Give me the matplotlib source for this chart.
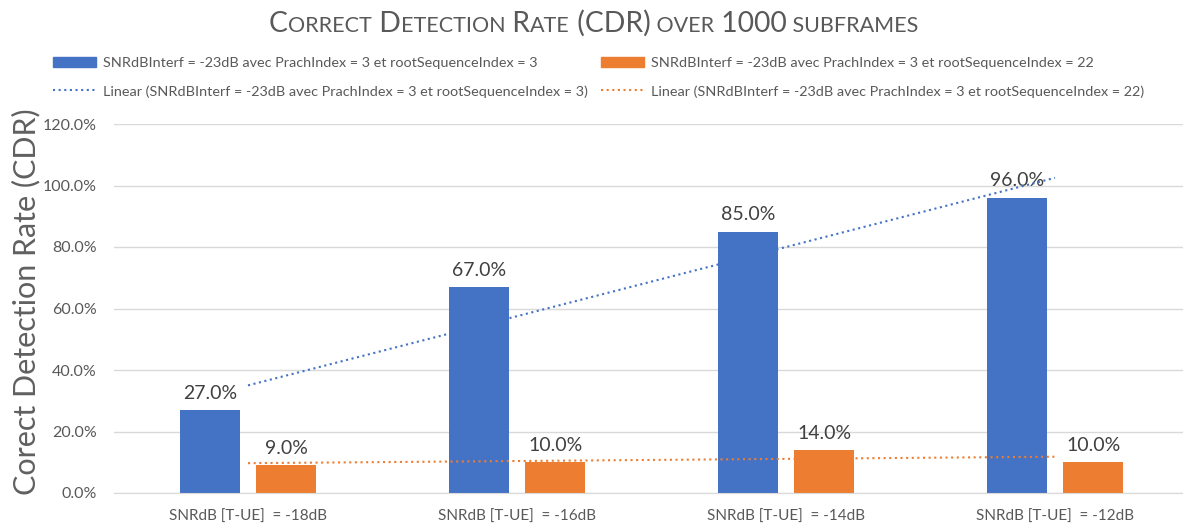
import numpy as np
import matplotlib
matplotlib.use("Agg")
import matplotlib.pyplot as plt
from matplotlib.patches import Patch
from matplotlib.lines import Line2D

categories = ["SNRdB [T-UE]  = -18dB", "SNRdB [T-UE]  = -16dB",
              "SNRdB [T-UE]  = -14dB", "SNRdB [T-UE]  = -12dB"]
cdr_root3 = [27.0, 67.0, 85.0, 96.0]
cdr_root22 = [9.0, 10.0, 14.0, 10.0]
label_root3 = "SNRdBInterf = -23dB avec PrachIndex = 3 et rootSequenceIndex = 3"
label_root22 = "SNRdBInterf = -23dB avec PrachIndex = 3 et rootSequenceIndex = 22"
yticks = [0, 20, 40, 60, 80, 100, 120]

FONT = "Lato"
plt.rcParams["font.family"] = [FONT, "DejaVu Sans"]

BLUE = "#4472C4"
ORANGE = "#ED7D31"
GRID = "#D9D9D9"
TXT = "#595959"

fig = plt.figure(figsize=(11.83, 5.28), dpi=100)
ax = fig.add_axes([113.5 / 1183, 1 - 493 / 528, 1076 / 1183, (493 - 124) / 528 * 1.0])

x = np.arange(len(categories))
off = 0.142
w = 0.223
b1 = ax.bar(x - off, cdr_root3, width=w, color=BLUE, zorder=2)
b2 = ax.bar(x + off, cdr_root22, width=w, color=ORANGE, zorder=2)

for bars, vals in ((b1, cdr_root3), (b2, cdr_root22)):
    for r, v in zip(bars, vals):
        ax.annotate(f"{v:.1f}%", (r.get_x() + r.get_width() / 2, v),
                    xytext=(0, 6), textcoords="offset points",
                    ha="center", va="bottom", fontsize=14, color="#404040")

# linear trendlines (Excel-like) fitted over category index 1..4
xi = np.arange(1, len(categories) + 1)
for vals, col in ((cdr_root3, BLUE), (cdr_root22, ORANGE)):
    p = np.polyfit(xi, vals, 1)
    ax.plot(x, np.polyval(p, xi), color=col, lw=1.5,
            linestyle=(0, (1, 1.7)), zorder=3)

ax.set_xlim(-0.5, len(categories) - 0.5)
ax.set_ylim(0, 120)
ax.set_yticks(yticks)
ax.set_yticklabels([f"{t:.1f}%" for t in yticks])
ax.set_xticks(x)
ax.set_xticklabels(categories)
ax.tick_params(axis="both", length=0, colors=TXT, labelsize=11)
ax.tick_params(axis="y", pad=12, labelsize=11.5)
ax.tick_params(axis="x", pad=12)
ax.grid(axis="y", color=GRID, lw=1, zorder=0)
ax.set_axisbelow(True)
for s in ("top", "right", "left"):
    ax.spines[s].set_visible(False)
ax.spines["bottom"].set_color(GRID)

fig.text(26 / 1183, 1 - 302 / 528, "Corect Detection Rate (CDR)", rotation=90,
         ha="center", va="center", fontsize=22, color="#606060")

# small-caps title
pieces = [("C", 1), ("ORRECT", 0), (" D", 1), ("ETECTION", 0), (" R", 1),
          ("ATE", 0), (" (CDR)", 1), (" OVER", 0), (" 1000", 1), (" SUBFRAMES", 0)]
big, small = 20.3, 15.5
title_y = 1 - 32 / 528
texts = [fig.text(0, title_y, s, fontsize=big if isbig else small, color=TXT,
                  ha="left", va="baseline") for s, isbig in pieces]
fig.canvas.draw()
r = fig.canvas.get_renderer()
widths = [tt.get_window_extent(r).width for tt in texts]
cur = 1183 / 2 - sum(widths) / 2 + 2
for tt, wd in zip(texts, widths):
    tt.set_position((cur / 1183, title_y))
    cur += wd

handles = [Patch(color=BLUE), Line2D([], [], color=BLUE, lw=1.5, linestyle=(0, (1, 1.7))),
           Patch(color=ORANGE), Line2D([], [], color=ORANGE, lw=1.5, linestyle=(0, (1, 1.7)))]
labels = [label_root3, f"Linear ({label_root3})", label_root22, f"Linear ({label_root22})"]
fig.legend(handles, labels, ncol=2, loc="upper left",
           bbox_to_anchor=(53 / 1183, 1 - 57 / 528), frameon=False,
           fontsize=10.4, labelcolor=TXT, handlelength=3.0, handleheight=0.7,
           handletextpad=0.45, columnspacing=0.9, labelspacing=1.1,
           borderaxespad=0, borderpad=0)

fig.savefig("out.png", dpi=100)
